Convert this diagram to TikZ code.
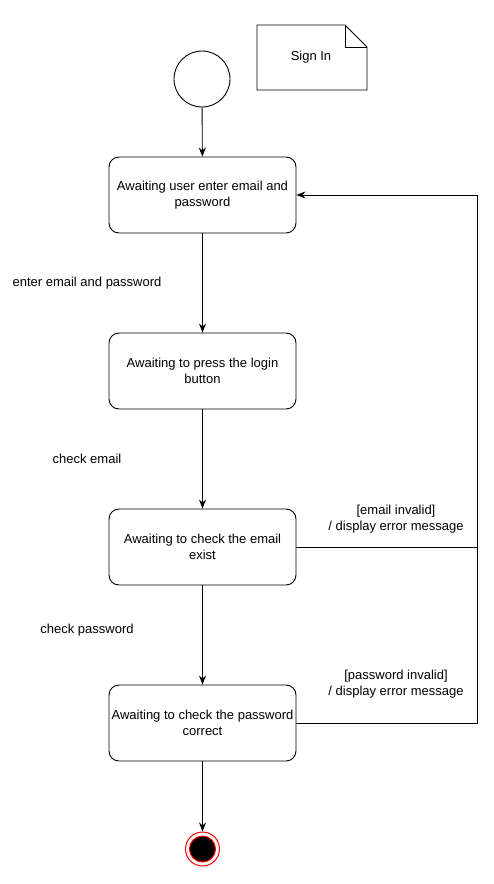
\documentclass[tikz,border=0pt]{standalone}
\usepackage{fontspec}
\setmainfont{Liberation Sans}
\usetikzlibrary{arrows.meta}
\definecolor{endred}{RGB}{255,0,0}
\tikzset{state/.style={draw,rounded corners=10pt,minimum width=187pt,minimum height=76pt,align=center,inner sep=2pt},
  trans/.style={-{Stealth[length=9pt,width=7pt]},line width=0.9pt}}

\begin{document}
\begin{tikzpicture}[x=1pt,y=-1pt,font=\fontsize{13}{15.5}\selectfont,line width=0.9pt]
\useasboundingbox (0,0) rectangle (493,884);
\node[draw,circle,minimum size=56pt] (init) at (202,79) {};
\draw (257,25) -- (345,25) -- (367,47) -- (367,90) -- (257,90) -- cycle;
\draw (345,25) -- (345,47) -- (367,47);
\node (note) at (311,57) {Sign In};
\node[state] (s1) at (202.5,195) {Awaiting user enter email and\\password};
\node[state] (s2) at (202.5,371) {Awaiting to press the login\\button};
\node[state] (s3) at (202.5,547) {Awaiting to check the email\\exist};
\node[state] (s4) at (202.5,723) {Awaiting to check the password\\correct};
\node[draw=endred,circle,minimum size=34pt,line width=1pt] (final) at (202.5,849) {};
\node[draw=endred,fill=black,circle,minimum size=26pt,line width=1pt] at (final) {};
\draw[trans] (init) -- (s1); \draw[trans] (s1) -- (s2); \draw[trans] (s2) -- (s3);
\draw[trans] (s3) -- (s4); \draw[trans] (s4) -- (final);
\node at (87,283) {enter email and password};
\node at (87,459) {check email};
\node at (87,630) {check password};
\coordinate (back) at (477,195);
\draw[trans] (s3.east) -| (back) -- (s1.east);
\draw (s4.east) -| (back);
\node[align=center] at (396,519) {[email invalid]\\/ display error message};
\node[align=center] at (396,684) {[password invalid]\\/ display error message};
\end{tikzpicture}
\end{document}
